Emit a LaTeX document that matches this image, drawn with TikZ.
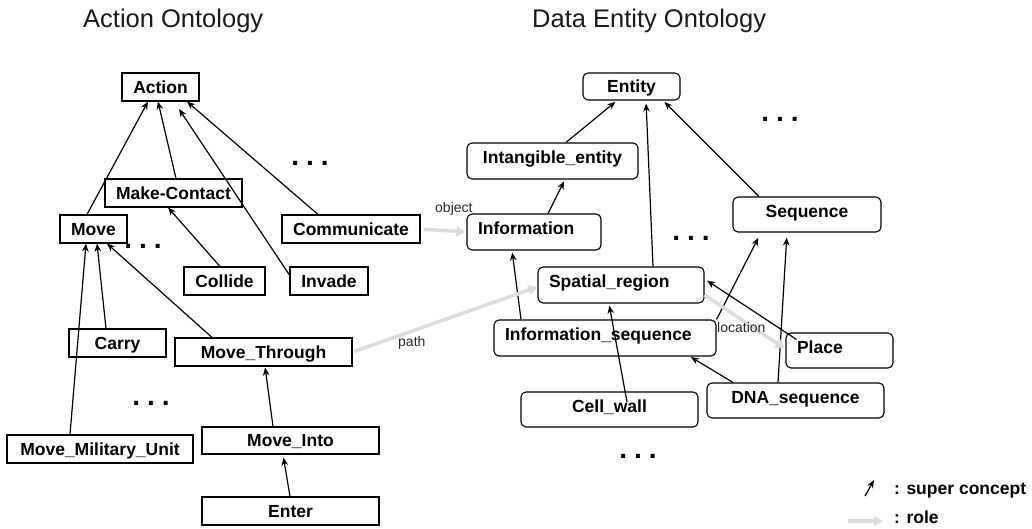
\documentclass[tikz,border=0pt]{standalone}
\usepackage{fontspec}
\setmainfont{Liberation Sans}
\usetikzlibrary{arrows.meta,calc}
\definecolor{rolegray}{RGB}{220,220,220}
\definecolor{labelgray}{RGB}{40,40,40}
\begin{document}
\begin{tikzpicture}[x=1bp,y=-1bp,
  bx/.style={draw, line width=1.1bp, inner sep=0pt, font=\fontsize{17.5bp}{20bp}\selectfont\bfseries, text height=12.5bp, text depth=0bp},
  lb/.style={bx},
  rb/.style={bx, rounded corners=5bp, text depth=7bp},
  sz/.style 2 args={minimum width=#1bp, minimum height=#2bp},
  lt/.style={text width=#1bp, align=left, inner xsep=11bp},
  sup/.style={-{Stealth[length=8bp,width=6.5bp,inset=2.5bp]}, line width=1.2bp},
  role/.style={-{Triangle[length=9bp,width=10bp]}, line width=3.5bp, draw=rolegray},
  lbl/.style={font=\fontsize{14bp}{16bp}\selectfont, text=labelgray, inner sep=0pt, anchor=base west},
  dotsn/.style={font=\fontsize{28bp}{30bp}\selectfont\bfseries, inner sep=0pt},
  ttl/.style={font=\fontsize{25.5bp}{28bp}\selectfont, inner sep=0pt, anchor=base west, text=black!90},
  lgd/.style={font=\fontsize{17.5bp}{20bp}\selectfont\bfseries, inner sep=0pt, anchor=base west},
]
\useasboundingbox (0,0) rectangle (1032,529);

% titles
\node[ttl] (t1) at (83,28) {Action Ontology};
\node[ttl] (t2) at (532,28) {Data Entity Ontology};

% ---------- Action ontology ----------
\node[lb, sz={77}{28}] (action) at (160.5,87) {Action};
\node[lb, sz={137}{28}] (makecontact) at (173.5,193) {Make-Contact};
\node[lb, sz={67}{28}] (move) at (93.5,229) {Move};
\node[lb, sz={138}{28}] (communicate) at (351,229) {Communicate};
\node[lb, sz={81}{28}] (collide) at (224.5,281) {Collide};
\node[lb, sz={78}{28}] (invade) at (329,281) {Invade};
\node[lb, sz={97}{28}] (carry) at (117.5,343) {Carry};
\node[lb, sz={177}{28}] (movethrough) at (263.5,352) {Move\_Through};
\node[lb, sz={186}{28}] (mmu) at (100,449) {Move\_Military\_Unit};
\node[lb, sz={177}{27}] (moveinto) at (290.5,440.5) {Move\_Into};
\node[lb, sz={177}{28}] (enter) at (290.5,511) {Enter};

\node[dotsn] (d1) at (310,163) {.\hspace{7bp}.\hspace{7bp}.};
\node[dotsn] (d2) at (143,246) {.\hspace{7bp}.\hspace{7bp}.};
\node[dotsn] (d3) at (151,403) {.\hspace{7bp}.\hspace{7bp}.};

\draw[sup] (move.north -| 87,0) -- (action.south -| 148,0);
\draw[sup] (makecontact.north -| 176,0) -- (action.south -| 158,0);
\draw[sup, shorten >=9bp] (invade.west |- 0,275) -- (action.south -| 174,0);
\draw[sup] (communicate.north -| 318,0) -- (action.south -| 187,0);
\draw[sup] (collide.north -| 220,0) -- (makecontact.south -| 168,0);
\draw[sup] (carry.north -| 106,0) -- (move.south -| 97,0);
\draw[sup] (mmu.north -| 70,0) -- (move.south -| 86,0);
\draw[sup] (movethrough.north -| 212,0) -- (move.south -| 107,0);
\draw[sup, shorten >=1bp] (moveinto.north -| 273,0) -- (movethrough.south -| 265,0);
\draw[sup, shorten >=3bp] (enter.north -| 290,0) -- (moveinto.south -| 283,0);

% ---------- Data entity ontology ----------
\node[rb, sz={97}{27}, text depth=0bp] (entity) at (631.5,86.5) {Entity};
\node[rb, sz={171}{36}] (intangible) at (552.5,161) {Intangible\_entity};
\node[rb, lt={112}, minimum height=36bp] (information) at (534,232) {Information};
\node[rb, sz={148}{35}] (sequence) at (807,214.5) {Sequence};
\node[rb, lt={144}, minimum height=36bp] (spatial) at (621,285) {Spatial\_region};
\node[rb, lt={200}, minimum height=36bp] (infoseq) at (605,338) {Information\_sequence};
\node[rb, lt={85}, minimum height=35bp] (place) at (839.5,350.5) {Place};
\node[rb, sz={177}{35}] (cellwall) at (609.5,409.5) {Cell\_wall};
\node[rb, sz={177}{35}] (dna) at (795.5,400.5) {DNA\_sequence};

\node[dotsn] (d4) at (780,119) {.\hspace{7bp}.\hspace{7bp}.};
\node[dotsn] (d5) at (691,238) {.\hspace{7bp}.\hspace{7bp}.};
\node[dotsn] (d6) at (638,456) {.\hspace{7bp}.\hspace{7bp}.};

\draw[sup, shorten >=2bp] (intangible.north -| 566,0) -- (entity.south -| 617,0);
\draw[sup, shorten >=2bp] (information.north -| 548,0) -- (intangible.south -| 565,0);
\draw[sup, shorten >=3bp] (spatial.north -| 653,0) -- (entity.south -| 646,0);
\draw[sup, shorten >=2bp] (sequence.north -| 759,0) -- (entity.south -| 663,0);
\draw[sup, shorten >=2bp] (infoseq.north -| 521,0) -- (information.south -| 512,0);
\draw[sup, shorten >=6bp] (infoseq.north east) -- (sequence.south -| 761,0);
\draw[sup, shorten >=5bp] (dna.north -| 778,0) -- (sequence.south -| 787,0);
\draw[sup, shorten >=3bp] ([shift={(11,7)}]place.north west) -- (spatial.east |- 0,279);
\draw[sup, shorten >=1bp] (dna.north -| 733,0) -- (infoseq.south -| 690,0);
\draw[sup, shorten >=2bp] ([shift={(17.5,-7.5)}]cellwall.center) -- (spatial.south -| 609,0);

% ---------- roles ----------
\draw[role, shorten <=3bp, shorten >=1bp] (communicate.east) -- (information.west);
\node[lbl] (lobject) at (435,213) {object};
\draw[role, shorten <=2bp] (movethrough.east) -- (spatial.west |- 0,287);
\node[lbl] (lpath) at (398,347) {path};
\draw[role, shorten >=1bp] (spatial.east |- 0,295) -- (place.west |- 0,349);
\node[lbl] (llocation) at (717,333) {location};

% ---------- legend ----------
\coordinate (lgA) at (865,496);
\coordinate (lgB) at (874,480);
\draw[sup] (lgA) -- (lgB);
\node[lgd] (lgsup) at (894,494) {: super concept};
\coordinate (lgC) at (848,521);
\coordinate (lgD) at (883,521);
\draw[role] (lgC) -- (lgD);
\node[lgd] (lgrole) at (894,523) {: role};
\end{tikzpicture}
\end{document}
